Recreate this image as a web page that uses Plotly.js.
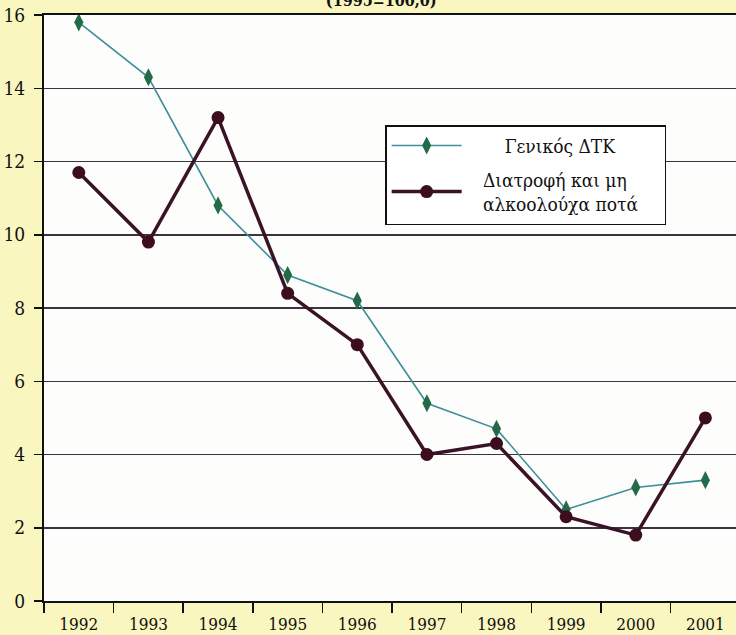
<!DOCTYPE html>
<html>
<head>
<meta charset="utf-8">
<script src="https://cdn.plot.ly/plotly-3.0.1.min.js"></script>
<style>html,body{margin:0;padding:0;background:#faf6bf;}#chart{width:736px;height:635px;}</style>
</head>
<body>
<div id="chart"></div>
<script>
const years = ['1992','1993','1994','1995','1996','1997','1998','1999','2000','2001'];
const generalCPI = [15.8, 14.3, 10.8, 8.9, 8.2, 5.4, 4.7, 2.5, 3.1, 3.3];
const foodDrinks = [11.7, 9.8, 13.2, 8.4, 7.0, 4.0, 4.3, 2.3, 1.8, 5.0];
const seriesNames = ['Γενικός ΔΤΚ', 'Διατροφή και μη<br>αλκοολούχα ποτά'];
const yTicks = [0, 2, 4, 6, 8, 10, 12, 14, 16];
const titleText = '(1995=100,0)';

const SERIF = 'DejaVu Serif Condensed, DejaVu Serif, serif';
const pad = '\u00a0'.repeat(3);
const padR = '\u00a0'.repeat(4);

const traces = [
  {
    x: years, y: generalCPI, type: 'scatter', mode: 'lines+markers',
    name: pad + '\u00a0\u00a0\u00a0\u00a0' + seriesNames[0] + padR,
    legendgroup: 'g1',
    line: {color: '#3e8e9a', width: 1.6},
    marker: {symbol: 'diamond-tall', size: 13, color: '#236b46'}
  },
  {
    x: years, y: foodDrinks, type: 'scatter', mode: 'lines+markers',
    name: seriesNames[1].split('<br>').map(s => pad + s + padR).join('<br>'),
    legendgroup: 'g2',
    line: {color: '#3a1326', width: 3.5},
    marker: {symbol: 'circle', size: 13, color: '#3c0d1f'}
  }
];

const layout = {
  width: 736, height: 635,
  paper_bgcolor: '#faf6bf',
  plot_bgcolor: '#fdfdfc',
  margin: {l: 44, r: 0, t: 15, b: 34},
  font: {family: SERIF, color: '#111'},
  title: {
    text: titleText, x: 0.518, xanchor: 'center', xref: 'container',
    y: 1.0, yanchor: 'middle', yref: 'container',
    font: {size: 16, family: SERIF, weight: 'bold', color: '#111'}
  },
  showlegend: true,
  legend: {
    x: 0.493, y: 0.812, xanchor: 'left', yanchor: 'top',
    bgcolor: '#ffffff', bordercolor: '#111', borderwidth: 1.5,
    font: {size: 19, family: SERIF, color: '#111'},
    itemwidth: 70,
    traceorder: 'grouped',
    tracegroupgap: 6
  },
  xaxis: {
    type: 'category',
    range: [-0.5, 9.44],
    tickson: 'boundaries',
    ticks: 'outside', ticklen: 10, tickwidth: 1.5, tickcolor: '#111',
    showgrid: false,
    showline: true, linecolor: '#111', linewidth: 2, mirror: true,
    tickfont: {size: 17, family: SERIF, color: '#111'},
    ticklabelstandoff: 7,
    zeroline: false, fixedrange: true
  },
  yaxis: {
    range: [0, 16],
    tickvals: yTicks,
    ticktext: yTicks.map(String),
    ticks: 'outside', ticklen: 8, tickwidth: 1.5, tickcolor: '#111',
    showgrid: true, gridcolor: '#3d3340', gridwidth: 1.5,
    showline: true, linecolor: '#111', linewidth: 2,
    zeroline: false,
    tickfont: {size: 19, family: SERIF, color: '#111'},
    ticklabelstandoff: 5, fixedrange: true
  }
};

Plotly.newPlot('chart', traces, layout, {displayModeBar: false, staticPlot: true});
</script>
</body>
</html>
